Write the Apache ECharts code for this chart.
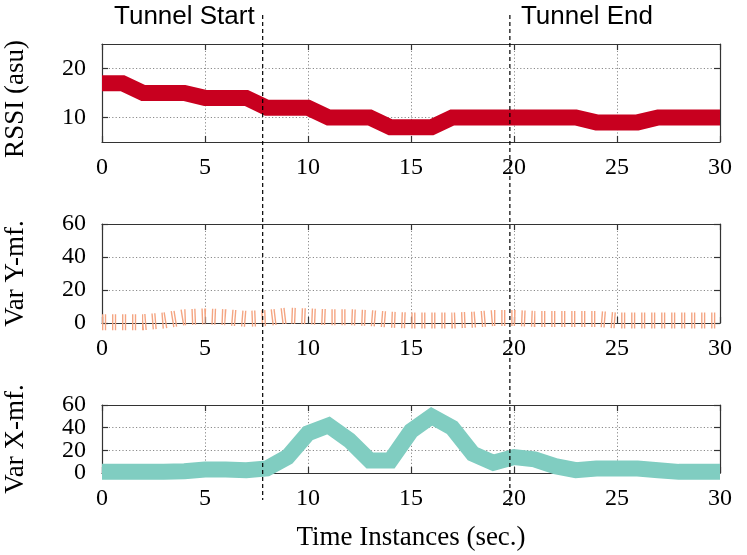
<!DOCTYPE html>
<html><head><meta charset="utf-8">
<script src="https://cdn.jsdelivr.net/npm/echarts@6/dist/echarts.min.js"></script>
<style>html,body{margin:0;padding:0;background:#fff}#c{width:747px;height:555px}</style>
</head><body><div id="c"></div>
<script>
const timeInstances = [0,1,2,3,4,5,6,7,8,9,10,11,12,13,14,15,16,17,18,19,20,21,22,23,24,25,26,27,28,29,30];
const rssi = [17,17,15,15,15,14,14,14,12,12,12,10,10,10,8,8,8,10,10,10,10,10,10,10,9,9,9,10,10,10,10];
const varYmf = [0.5,0.5,0.5,1.5,3.5,4,3.5,2.5,3,4.5,4,3.5,3.5,3,2,1.5,1.5,1.5,2,3,3,2.5,2.5,2.5,2.5,1.5,1.5,1.5,1.5,1.5,1.5];
const varXmf = [1,1,1,1,1.5,3,3,2.5,4,14,35,42,29,11,11,37,50,40,17,9,14,12,6,2.5,4,4,4,2.5,1,1,1];
const xTicks = [0,5,10,15,20,25,30];
const rssiTicks = [10,20];
const varTicks = [0,20,40,60];
const tunnelTimes = [7.8, 19.8];
const tunnelLabels = ['Tunnel Start', 'Tunnel End'];
const yNames = ['RSSI (asu)', 'Var Y-mf.', 'Var X-mf.'];
const xName = 'Time Instances (sec.)';

const SERIF = 'Liberation Serif, Times New Roman, serif';
const SANS = 'Liberation Sans, Arial, sans-serif';
const frameColor = '#333';
const grids = [
  {left:102, right:27, top:44, height:98, containLabel:false, outerBoundsMode:'none'},
  {left:102, right:27, top:224, height:99, containLabel:false, outerBoundsMode:'none'},
  {left:102, right:27, top:405, height:68, containLabel:false, outerBoundsMode:'none'}
];
const yRanges = [
  {min:5, max:25, interval:5, custom:rssiTicks},
  {min:0, max:60, interval:20, custom:varTicks},
  {min:0, max:60, interval:20, custom:varTicks}
];
const axisLineS = {show:true, onZero:false, lineStyle:{color:frameColor, width:1.2}};
const tickS = {show:true, inside:true, length:6, lineStyle:{color:frameColor, width:1.2}};
const gridLineS = {show:true, lineStyle:{type:[1.2,2.2], color:'#8a8a8a', width:1}};
const labelBase = {margin:16, fontFamily:SERIF, fontSize:24, color:'#000', showMinLabel:true, showMaxLabel:true, hideOverlap:false};

const xAxes = [], yAxes = [];
const seriesY = [];
grids.forEach((g, i) => {
  xAxes.push({type:'value', gridIndex:i, position:'bottom', min:0, max:30, interval:5,
    axisLine:axisLineS, axisTick:tickS, splitLine:gridLineS,
    axisLabel:Object.assign({}, labelBase, {customValues:xTicks, margin:14}),
    name: i === 2 ? xName : '', nameLocation:'middle', nameGap:51,
    nameTextStyle:{fontFamily:SERIF, fontSize:27, color:'#000'}});
  xAxes.push({type:'value', gridIndex:i, position:'top', min:0, max:30, interval:5,
    axisLine:axisLineS, axisTick:tickS, splitLine:{show:false}, axisLabel:{show:false}});
  const r = yRanges[i];
  // split labels into two alternating groups so that tightly packed labels are all drawn
  const labA = r.custom.filter((v, k) => k % 2 === 0);
  const labB = r.custom.filter((v, k) => k % 2 === 1);
  seriesY.push(yAxes.length);
  yAxes.push({type:'value', gridIndex:i, position:'left', min:r.min, max:r.max, interval:r.interval,
    axisLine:axisLineS, axisTick:Object.assign({customValues:r.custom}, tickS), splitLine:gridLineS,
    axisLabel:Object.assign({}, labelBase, {customValues:labA}),
    name:yNames[i], nameLocation:'middle', nameGap:73,
    nameTextStyle:{fontFamily:SERIF, fontSize:27, color:'#000', padding: i === 0 ? [0,12,0,0] : 0}});
  yAxes.push({type:'value', gridIndex:i, position:'right', min:r.min, max:r.max, interval:r.interval,
    axisLine:axisLineS, axisTick:Object.assign({customValues:r.custom}, tickS), splitLine:{show:false}, axisLabel:{show:false}});
  yAxes.push({type:'value', gridIndex:i, position:'left', offset:0, min:r.min, max:r.max, interval:r.interval,
    axisLine:{show:false}, axisTick:{show:false}, splitLine:{show:false},
    axisLabel:Object.assign({}, labelBase, {customValues:labB})});
});

const pairs = arr => timeInstances.map((t, k) => [t, arr[k]]);
const series = [
  {type:'line', xAxisIndex:0, yAxisIndex:seriesY[0], data:pairs(rssi), showSymbol:false, clip:false, animation:false,
   lineStyle:{color:'#c8001f', width:16, cap:'butt', join:'miter'}},
  {type:'line', xAxisIndex:2, yAxisIndex:seriesY[1], data:pairs(varYmf), showSymbol:false, clip:false, animation:false,
   lineStyle:{color:'#f4a582', width:16, cap:'butt', join:'miter', type:[1.4,1.4,1.4,5.8]}},
  {type:'line', xAxisIndex:4, yAxisIndex:seriesY[2], data:pairs(varXmf), showSymbol:false, clip:false, animation:false,
   lineStyle:{color:'#80cdc1', width:16, cap:'butt', join:'miter'}}
];

const chart = echarts.init(document.getElementById('c'), null, {renderer:'canvas'});
chart.setOption({backgroundColor:'#fff', animation:false, grid:grids, xAxis:xAxes, yAxis:yAxes, series:series});

const graphics = [];
const yEnds = [500, 506];
tunnelTimes.forEach((t, i) => {
  const px = chart.convertToPixel({xAxisIndex:0}, t);
  graphics.push({type:'line', silent:true, z:100,
    shape:{x1:px, y1:15, x2:px, y2:yEnds[i]},
    style:{stroke:'#000', lineWidth:1.2, lineDash:[4,3]}});
  graphics.push({type:'text', silent:true, z:100,
    x: i === 0 ? px - 8 : px + 11, y: 17,
    style:{text:tunnelLabels[i], font:'26px ' + SANS, fill:'#000',
      align: i === 0 ? 'right' : 'left', verticalAlign:'middle'}});
});
chart.setOption({graphic:graphics});
</script></body></html>
